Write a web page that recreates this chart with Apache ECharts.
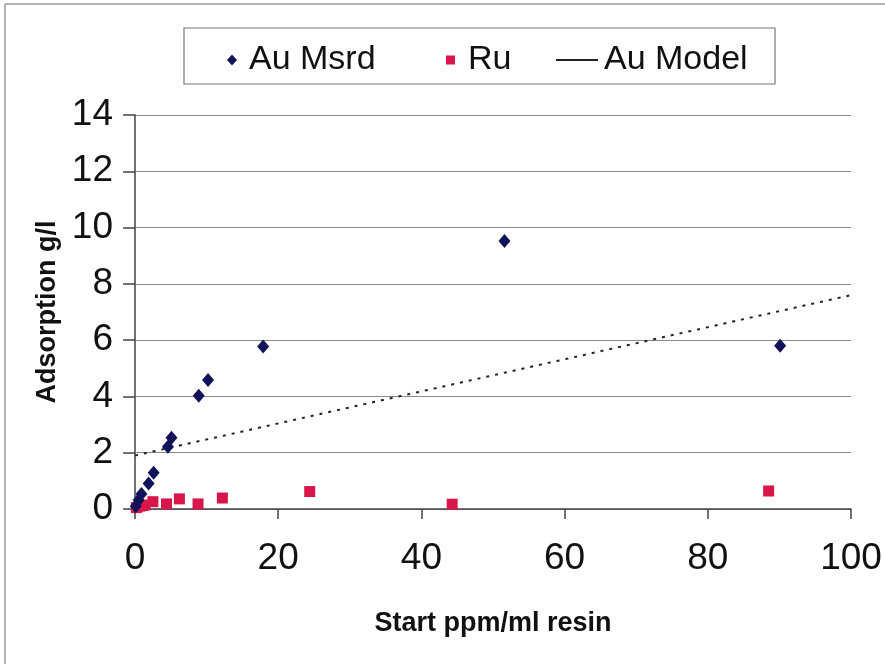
<!DOCTYPE html>
<html>
<head>
<meta charset="utf-8">
<script src="https://cdn.jsdelivr.net/npm/echarts@6/dist/echarts.min.js"></script>
<style>
  html, body { margin: 0; padding: 0; background: #fff; }
  #chart { width: 885px; height: 664px; }
</style>
</head>
<body>
<div id="chart"></div>
<script>
// Measured gold adsorption (start ppm/ml resin vs g/l)
var auX = [0.1, 0.5, 0.9, 1.9, 2.6, 4.6, 5.1, 8.9, 10.2, 17.9, 51.6, 90.1];
var auY = [0.1, 0.32, 0.53, 0.91, 1.29, 2.21, 2.53, 4.02, 4.58, 5.77, 9.52, 5.8];

// Measured ruthenium adsorption
var ruX = [0.2, 0.6, 1.0, 1.4, 2.5, 4.4, 6.2, 8.8, 12.2, 24.4, 44.3, 88.5];
var ruY = [0.05, 0.1, 0.12, 0.14, 0.26, 0.18, 0.36, 0.18, 0.39, 0.62, 0.17, 0.64];

// Linear gold model, end points over the plotted range
var modelX = [0, 100];
var modelY = [1.9, 7.6];

// Axis ticks
var xTicks = [0, 20, 40, 60, 80, 100];
var yTicks = [0, 2, 4, 6, 8, 10, 12, 14];

function pairs(xs, ys) {
  return xs.map(function (x, i) { return [x, ys[i]]; });
}

var FONT = '"Liberation Sans", Arial, sans-serif';
var AU_COLOR = '#12125a';
var RU_COLOR = '#d8164a';

var chart = echarts.init(document.getElementById('chart'), null, { renderer: 'canvas' });

function legendItem(name, left, icon, w, h, color, pad) {
  return {
    left: left, top: 41, padding: 0,
    itemWidth: w, itemHeight: h,
    selectedMode: false,
    data: [{ name: name, icon: icon, itemStyle: { color: color, opacity: 1 } }],
    textStyle: { fontFamily: FONT, fontSize: 34, color: '#111', padding: [0, 0, 0, pad], lineHeight: 38 }
  };
}

chart.setOption({
  animation: false,
  backgroundColor: '#fff',
  grid: { left: 135, right: 34, top: 115, bottom: 155 },
  graphic: [
    { type: 'line', shape: { x1: 5, y1: 4, x2: 885, y2: 4 }, style: { stroke: '#9a9a9a', lineWidth: 1.5 } },
    { type: 'line', shape: { x1: 5, y1: 4, x2: 5, y2: 664 }, style: { stroke: '#9a9a9a', lineWidth: 1.5 } },
    { type: 'rect', shape: { x: 184, y: 28, width: 591, height: 56 }, style: { fill: 'none', stroke: '#777', lineWidth: 1.2 }, z: -1 }
  ],
  legend: [
    legendItem('Au Msrd', 227, 'diamond', 10, 11, AU_COLOR, 7),
    legendItem('Ru', 446, 'rect', 9, 9, RU_COLOR, 8),
    legendItem('Au Model', 556, 'rect', 42, 2, '#222', 1)
  ],
  xAxis: {
    type: 'value', min: 0, max: 100, interval: 20,
    name: 'Start ppm/ml resin', nameLocation: 'middle', nameGap: 101,
    nameTextStyle: { fontFamily: FONT, fontSize: 27, fontWeight: 'bold', color: '#111' },
    axisLine: { show: true, onZero: false, lineStyle: { color: '#444', width: 1.5 } },
    axisTick: { show: true, inside: false, length: 10, lineStyle: { color: '#444', width: 1.5 } },
    axisLabel: {
      fontFamily: FONT, fontSize: 37, color: '#111', margin: 31,
      formatter: function (v) { return xTicks.indexOf(v) >= 0 ? String(v) : ''; }
    },
    splitLine: { show: false }
  },
  yAxis: {
    type: 'value', min: 0, max: 14, interval: 2,
    name: 'Adsorption g/l', nameLocation: 'middle', nameGap: 74, nameRotate: 90,
    nameTextStyle: { fontFamily: FONT, fontSize: 27, fontWeight: 'bold', color: '#111' },
    axisLine: { show: true, lineStyle: { color: '#444', width: 1.5 } },
    axisTick: { show: true, inside: false, length: 12, lineStyle: { color: '#444', width: 1.5 } },
    axisLabel: {
      fontFamily: FONT, fontSize: 37, color: '#111', margin: 22,
      formatter: function (v) { return yTicks.indexOf(v) >= 0 ? String(v) : ''; }
    },
    splitLine: { show: true, lineStyle: { color: '#8a8a8a', width: 1.2 } }
  },
  series: [
    {
      name: 'Au Msrd', type: 'scatter', symbol: 'diamond', symbolSize: [12, 14],
      itemStyle: { color: AU_COLOR, opacity: 1 }, data: pairs(auX, auY), z: 3
    },
    {
      name: 'Ru', type: 'scatter', symbol: 'rect', symbolSize: 11,
      itemStyle: { color: RU_COLOR, opacity: 1 }, data: pairs(ruX, ruY), z: 2
    },
    {
      name: 'Au Model', type: 'line', symbol: 'none', silent: true,
      lineStyle: { color: '#222', width: 2, type: [3, 6] },
      itemStyle: { color: '#222' },
      data: pairs(modelX, modelY), z: 1
    }
  ]
});
</script>
</body>
</html>
